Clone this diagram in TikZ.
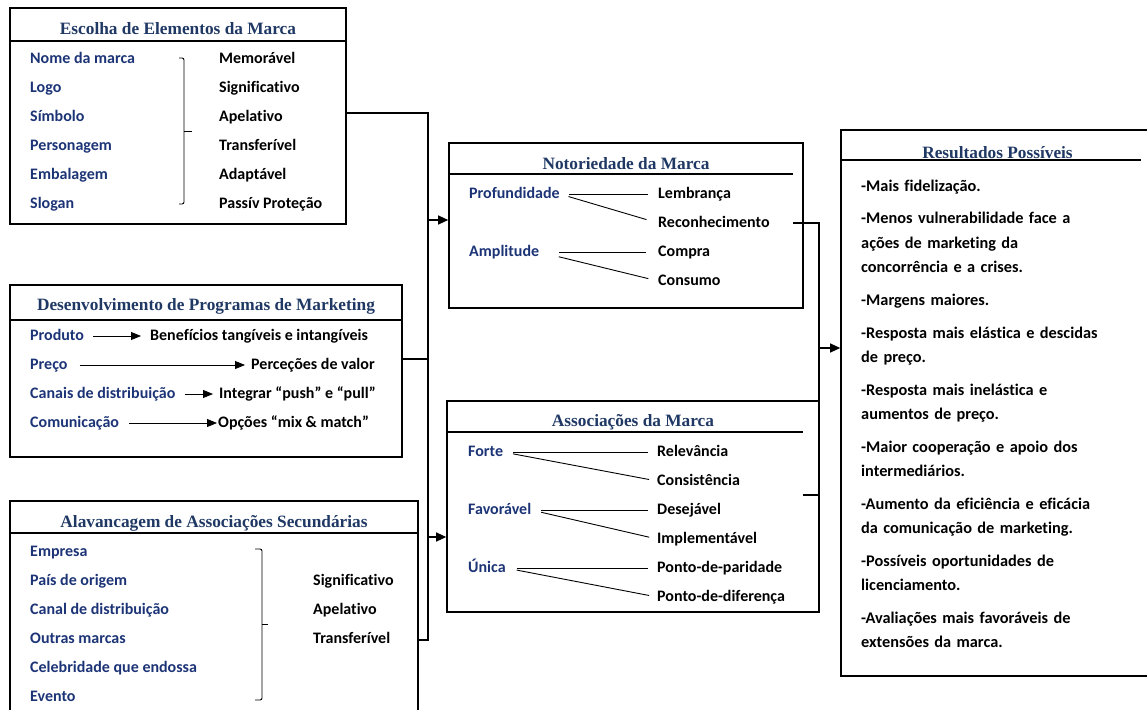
\documentclass[tikz,border=0pt]{standalone}
\usepackage{fontspec}
\setmainfont{Carlito}[Ligatures=NoCommon]
\newfontfamily\ttlfont{Liberation Serif}
\usetikzlibrary{arrows.meta}
\definecolor{ttlblue}{RGB}{31,56,100}
\definecolor{itmblue}{RGB}{28,52,118}
\tikzset{
    box/.style={draw, rectangle, line width=1.6pt, inner sep=0pt},
    ttl/.style={font=\ttlfont\bfseries\fontsize{17.3}{20}\selectfont, text=ttlblue, inner sep=0pt},
    lft/.style={font=\bfseries\fontsize{16}{19}\selectfont, text=itmblue, anchor=west, inner sep=0pt,
        text height=11pt, text depth=2pt},
    rgt/.style={lft, text=black},
    res/.style={font=\bfseries\fontsize{16.3}{24.3}\selectfont, anchor=base west, inner sep=0pt,
        text width=280pt, align=left},
    hrule/.style={line width=1.2pt},
    link/.style={line width=1.2pt},
    arr/.style={link, -{Triangle[length=10pt,width=9pt]}},
    inarr/.style={line width=0.8pt, -{Triangle[length=10pt,width=8pt]}},
    branch/.style={line width=0.9pt},
}
\begin{document}
\begin{tikzpicture}[x=1pt, y=-1pt]
    \useasboundingbox (0,0) rectangle (1147,709);
    % caixas
    \node[box, minimum width=336pt, minimum height=216pt] (escolha) at (178,116) {};
    \node[box, minimum width=392pt, minimum height=172pt] (desenv) at (206,371) {};
    \node[box, minimum width=408pt, minimum height=219pt] (alav) at (214,610.5) {};
    \node[box, minimum width=354pt, minimum height=165pt] (notor) at (626,225.5) {};
    \node[box, minimum width=372pt, minimum height=211pt] (assoc) at (633,506.5) {};
    \node[box, minimum width=319pt, minimum height=546pt] (result) at (1000.5,403) {};
    % titulos
    \node[ttl] (tescolha) at (178,29) {Escolha de Elementos da Marca};
    \draw[hrule] (escolha.west |- 0,41) -- (escolha.east |- 0,41);
    \node[ttl] (tdesenv) at (206,306) {Desenvolvimento de Programas de Marketing};
    \draw[hrule] (desenv.west |- 0,320) -- (desenv.east |- 0,320);
    \node[ttl] (talav) at (214,523) {Alavancagem de Associações Secundárias};
    \draw[hrule] (alav.west |- 0,533) -- (alav.east |- 0,533);
    \node[ttl] (tnotor) at (626,164) {Notoriedade da Marca};
    \draw[hrule] (notor.west |- 0,174) -- (793,174);
    \node[ttl] (tassoc) at (633,422) {Associações da Marca};
    \draw[hrule] (assoc.west |- 0,432) -- (803,432);
    \node[ttl] (tresult) at (997.5,153) {Resultados Possíveis};
    \draw[hrule] (result.west |- 0,160) -- (1141,160);

    % escolha de elementos
    \node[lft] (nome) at (30,59) {Nome da marca};
    \node[lft] (logo) at (30,88) {Logo};
    \node[lft] (simb) at (30,117) {Símbolo};
    \node[lft] (pers) at (30,146) {Personagem};
    \node[lft] (emb) at (30,175) {Embalagem};
    \node[lft] (slogan) at (30,204) {Slogan};
    \node[rgt] (memo) at (219,59) {Memorável};
    \node[rgt] (sig) at (219,88) {Significativo};
    \node[rgt] (apel) at (219,117) {Apelativo};
    \node[rgt] (transf) at (219,146) {Transferível};
    \node[rgt] (adapt) at (219,175) {Adaptável};
    \node[rgt] (passiv) at (219,204) {Passív Proteção};
    \draw[branch, rounded corners=2pt] (179,58) -- (184,58) -- (184,204) -- (179,204);
    \draw[branch] (184,131) -- (192,131);

    % programas de marketing
    \node[lft] (prod) at (30,336) {Produto};
    \node[lft] (preco) at (30,365) {Preço};
    \node[lft] (canais) at (30,394) {Canais de distribuição};
    \node[lft] (comun) at (30,423) {Comunicação};
    \node[rgt] (benef) at (150,336) {Benefícios tangíveis e intangíveis};
    \node[rgt] (percep) at (251,365) {Perceções de valor};
    \node[rgt] (integ) at (219,394) {Integrar “push” e “pull”};
    \node[rgt] (opcoes) at (218,423) {Opções “mix \& match”};
    \draw[inarr, shorten <=9pt, shorten >=9pt] (prod) -- (benef);
    \draw[inarr, shorten <=12pt, shorten >=6pt] (preco) -- (percep);
    \draw[inarr, shorten <=9pt, shorten >=6pt] (canais) -- (integ);
    \draw[inarr, shorten <=10pt, shorten >=1pt] (comun) -- (opcoes);

    % associacoes secundarias
    \node[lft] (empresa) at (30,552) {Empresa};
    \node[lft] (pais) at (30,581) {País de origem};
    \node[lft] (canal) at (30,610) {Canal de distribuição};
    \node[lft] (outras) at (30,639) {Outras marcas};
    \node[lft] (celeb) at (30,668) {Celebridade que endossa};
    \node[lft] (evento) at (30,697) {Evento};
    \node[rgt] (sig2) at (313,581) {Significativo};
    \node[rgt] (apel2) at (313,610) {Apelativo};
    \node[rgt] (transf2) at (313,639) {Transferível};
    \draw[branch, rounded corners=2pt] (255,549) -- (262,549) -- (262,700) -- (255,700);
    \draw[branch] (262,624) -- (268,624);

    % notoriedade
    \node[lft] (prof) at (469,194) {Profundidade};
    \node[lft] (ampl) at (469,252) {Amplitude};
    \node[rgt] (lemb) at (658,194) {Lembrança};
    \node[rgt] (reco) at (658,223) {Reconhecimento};
    \node[rgt] (compra) at (658,252) {Compra};
    \node[rgt] (consumo) at (658,281) {Consumo};
    \draw[branch, shorten <=9pt, shorten >=10pt] (prof.east) -- (lemb.west);
    \draw[branch, shorten <=9pt, shorten >=12pt] (prof.east) -- (reco.west);
    \draw[branch, shorten <=20pt, shorten >=12pt] (ampl.east) -- (compra.west);
    \draw[branch, shorten <=20pt, shorten >=10pt] (ampl.east) -- (consumo.west);

    % associacoes da marca
    \node[lft] (forte) at (468,452) {Forte};
    \node[lft] (favor) at (468,510) {Favorável};
    \node[lft] (unica) at (468,568) {Única};
    \node[rgt] (relev) at (657,452) {Relevância};
    \node[rgt] (consist) at (657,481) {Consistência};
    \node[rgt] (desej) at (657,510) {Desejável};
    \node[rgt] (implem) at (657,539) {Implementável};
    \node[rgt] (parid) at (657,568) {Ponto-de-paridade};
    \node[rgt] (difer) at (657,597) {Ponto-de-diferença};
    \draw[branch, shorten <=10pt, shorten >=9pt] (forte.east) -- (relev.west);
    \draw[branch, shorten <=10pt, shorten >=8pt] (forte.east) -- (consist.west);
    \draw[branch, shorten <=10pt, shorten >=9pt] (favor.east) -- (desej.west);
    \draw[branch, shorten <=10pt, shorten >=8pt] (favor.east) -- (implem.west);
    \draw[branch, shorten <=11pt, shorten >=9pt] (unica.east) -- (parid.west);
    \draw[branch, shorten <=11pt, shorten >=8pt] (unica.east) -- (difer.west);

    % resultados
    \node[res] (lista) at (861,191) {-Mais fidelização.\\[8.5pt]
        -Menos vulnerabilidade face a\\ ações de marketing da\\ concorrência e a crises.\\[8.5pt]
        -Margens maiores.\\[8.5pt]
        -Resposta mais elástica e descidas\\ de preço.\\[8.5pt]
        -Resposta mais inelástica e\\ aumentos de preço.\\[8.5pt]
        -Maior cooperação e apoio dos\\ intermediários.\\[8.5pt]
        -Aumento da eficiência e eficácia\\ da comunicação de marketing.\\[8.5pt]
        -Possíveis oportunidades de\\ licenciamento.\\[8.5pt]
        -Avaliações mais favoráveis de\\ extensões da marca.};

    % ligacoes
    \coordinate (j1) at (428,113);
    \coordinate (j2) at (428,640);
    \coordinate (d2) at ([yshift=12pt]desenv.east);
    \coordinate (k1) at (428,220);
    \coordinate (k2) at (428,537);
    \coordinate (m2) at (819,495);
    \coordinate (m3) at (803,495);
    \coordinate (m4) at (819,348);
    \draw[link] ([yshift=3pt]escolha.east) -- (j1) -- (j2) -- (j2 -| alav.east);
    \draw[link] (d2) -- (d2 -| j1);
    \draw[arr] (k1) -- (k1 -| notor.west);
    \draw[arr] (k2) -- (k2 -| assoc.west);
    \draw[link] ([xshift=23pt]reco.east) -| (m2) -- (m3);
    \draw[arr] (m4) -- (m4 -| result.west);
\end{tikzpicture}
\end{document}
